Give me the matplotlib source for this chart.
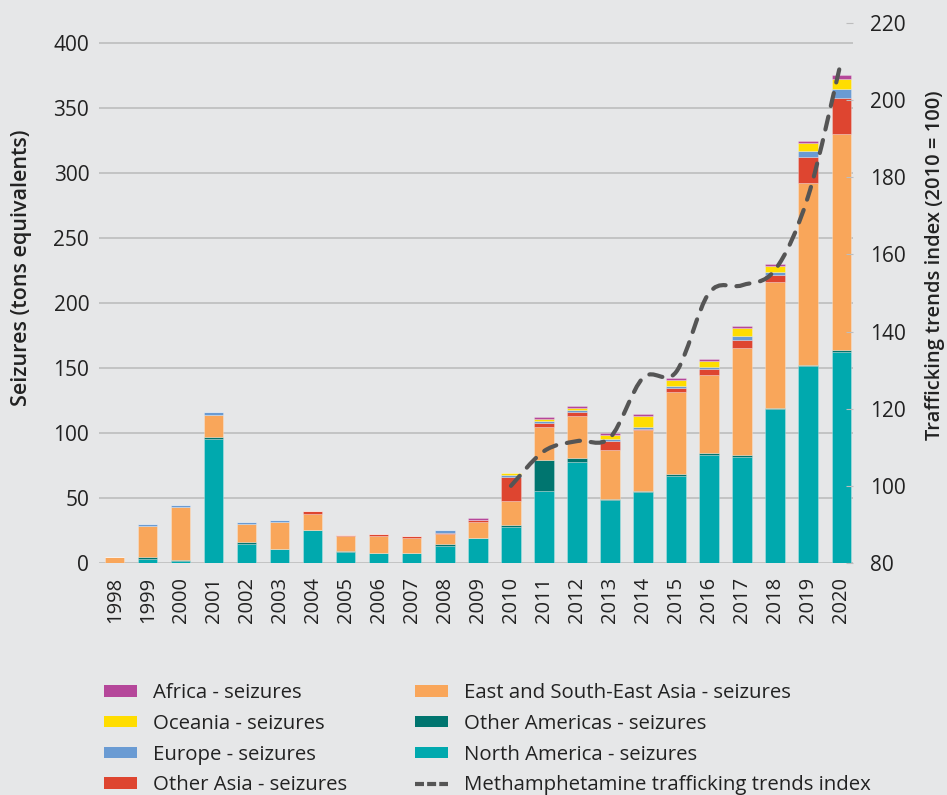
import numpy as np
import matplotlib.pyplot as plt
from matplotlib.path import Path
from matplotlib.patches import PathPatch, Patch
from matplotlib.lines import Line2D

plt.rcParams['font.family'] = ['Open Sans', 'DejaVu Sans']

# Methamphetamine seizures by region (tons equivalents), 1998-2020
years = list(range(1998, 2021))
north_america = [0, 3.3, 1.3, 95.6, 14.4, 11, 25.1, 8.2, 7.7, 7.7, 12.8, 19, 27.7,
                 55.6, 78, 48.2, 54.4, 67.2, 83, 81.5, 118.2, 151.4, 162.3]
other_americas = [0, 1.5, 0.8, 1.3, 1.5, 0, 0, 1.3, 0, 0, 1.5, 0, 1.3,
                  23.8, 3.1, 1.3, 1.3, 1.3, 1.3, 1.3, 1.3, 1.3, 1.3]
east_se_asia = [4.6, 23.8, 41, 17.2, 14.4, 20.8, 12.8, 11, 12.8, 11.3, 7.7, 12.8, 19,
                25.4, 31.8, 37.7, 46.4, 63.3, 60.4, 82.3, 96.3, 139.3, 166.2]
other_asia = [0, 0, 0, 0, 0, 0, 1.8, 1.3, 1.8, 1.8, 1.3, 1.5, 18.5,
              2.6, 3.1, 6.4, 1.0, 3.0, 4.2, 6.1, 6.1, 20, 28.2]
europe = [0, 1.5, 1.8, 2, 1.5, 1.5, 0, 0, 0, 0, 1.8, 0, 1.5,
          2, 1.5, 1.8, 1.8, 1.3, 1.8, 3.4, 1.8, 5, 6.6]
oceania = [0, 0, 0, 0, 0, 0, 0, 0, 0, 0, 0, 0, 1.3,
           1.5, 1.5, 3.3, 7.9, 4.6, 5, 6.3, 4.7, 6.1, 7.9]
africa = [0, 0, 0, 0, 0, 0, 0, 0, 0, 0, 0, 1.5, 0,
          1.5, 1.5, 1.5, 1.5, 1.8, 1.3, 1.6, 1.6, 1.6, 2.6]

# Trafficking trends index (2010 = 100)
index_years = list(range(2010, 2021))
trend_index = [100, 109, 111.6, 112.5, 128, 129.5, 150, 152, 156, 175, 210]

bg = '#E6E7E8'
txt = '#222222'
series = [
    ('North America - seizures', north_america, '#00A9AE'),
    ('Other Americas - seizures', other_americas, '#00756F'),
    ('East and South-East Asia - seizures', east_se_asia, '#F9A65A'),
    ('Other Asia - seizures', other_asia, '#DE4530'),
    ('Europe - seizures', europe, '#6A9BD3'),
    ('Oceania - seizures', oceania, '#FFDD00'),
    ('Africa - seizures', africa, '#B5479A'),
]

fig = plt.figure(figsize=(9.47, 7.95), dpi=100, facecolor=bg)
ax = fig.add_axes([0.1045, 0.2918, 0.7962, 0.6793], facecolor=bg)

x = np.arange(len(years))
bottom = np.zeros(len(years))
for name, vals, col in series:
    vals = np.array(vals, dtype=float)
    ax.bar(x, vals, 0.58, bottom=bottom, color=col, edgecolor=(1, 1, 1, 0.3),
           linewidth=0.6, zorder=2)
    bottom += vals

ax.set_xlim(-0.48, 22.36)
ax.set_ylim(0, 415.4)
ax.set_yticks(range(0, 401, 50))
ax.set_xticks(x)
ax.set_xticklabels(years, rotation=90)
ax.grid(axis='y', color='#BDBDBD', linewidth=1.2, zorder=0)
ax.set_axisbelow(True)
for s in ax.spines.values():
    s.set_visible(False)
ax.tick_params(axis='y', length=0, pad=7, labelsize=15, labelcolor=txt)
ax.tick_params(axis='x', length=0, pad=10, labelsize=14.5, labelcolor=txt)

ax2 = ax.twinx()
ax2.set_ylim(80, 220)
ax2.set_yticks(range(80, 221, 20))
for s in ax2.spines.values():
    s.set_visible(False)
ax2.tick_params(axis='y', direction='in', length=5, color='#BDBDBD', pad=12,
                labelsize=15, labelcolor=txt)

# smoothed dashed index line (Catmull-Rom segments as cubic Beziers)
px = np.array([years.index(y) for y in index_years], dtype=float)
py = np.array(trend_index, dtype=float)
pts = np.column_stack([px, py])
verts = [pts[0]]
codes = [Path.MOVETO]
for i in range(len(pts) - 1):
    p0 = pts[max(i - 1, 0)]
    p1 = pts[i]
    p2 = pts[i + 1]
    p3 = pts[min(i + 2, len(pts) - 1)]
    verts += [p1 + (p2 - p0) / 6, p2 - (p3 - p1) / 6, p2]
    codes += [Path.CURVE4] * 3
line = PathPatch(Path(verts, codes), fill=False, edgecolor='#555555', lw=3.0,
                 linestyle=(0, (3.2, 2.6)), capstyle='round', zorder=5,
                 transform=ax2.transData)
ax2.add_patch(line)

fig.text(22 / 947, 1 - 268 / 795, 'Seizures (tons equivalents)', rotation=90,
         ha='center', va='center', fontsize=15.5, fontweight='semibold', color=txt)
fig.text(935 / 947, 1 - 265 / 795, 'Trafficking trends index (2010 = 100)', rotation=90,
         ha='center', va='center', fontsize=14.5, fontweight='semibold', color=txt)

lookup = {name: col for name, _, col in series}
order = ['Africa - seizures', 'Oceania - seizures', 'Europe - seizures', 'Other Asia - seizures',
         'East and South-East Asia - seizures', 'Other Americas - seizures',
         'North America - seizures']
handles = [Patch(facecolor=lookup[n], edgecolor='none') for n in order]
handles.append(Line2D([0], [0], color='#555555', lw=3.0, linestyle=(0, (2.16, 0.75)),
                      dash_capstyle='butt'))
labels = order + ['Methamphetamine trafficking trends index']
fig.legend(handles, labels, ncol=2, loc='upper left', bbox_to_anchor=(104 / 947, 1 - 683 / 795),
           frameon=False, fontsize=14.7, handlelength=1.62, handleheight=0.5,
           handletextpad=0.78, labelspacing=0.53, columnspacing=3.3,
           borderpad=0, borderaxespad=0, labelcolor=txt)

fig.savefig('out.png', dpi=100, facecolor=bg)
